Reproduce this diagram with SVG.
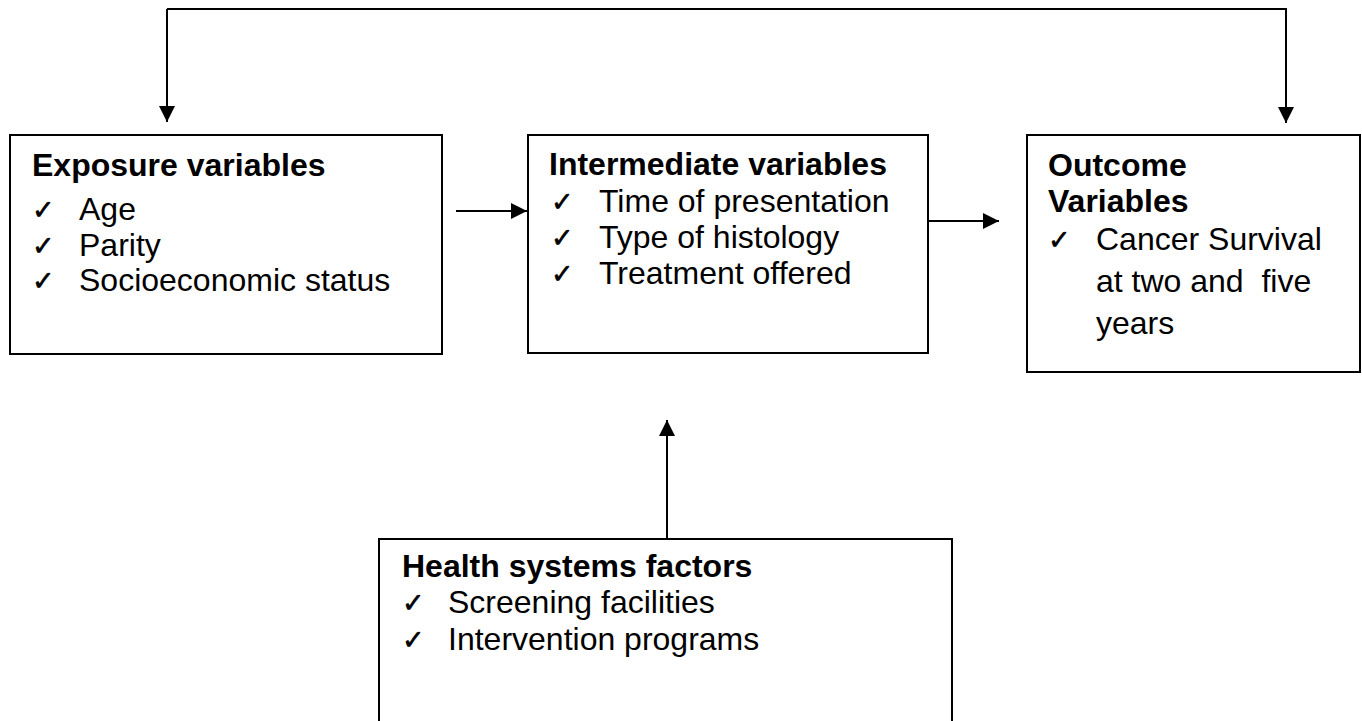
<svg xmlns="http://www.w3.org/2000/svg" width="1362" height="721" viewBox="0 0 1362 721">
  <style>
    .box { fill: #ffffff; stroke: #000000; stroke-width: 2; }
    .title { font-family: "Liberation Sans", Arial, sans-serif; font-size: 32px; font-weight: bold; fill: #000000; }
    .item { font-family: "Liberation Sans", Arial, sans-serif; font-size: 32px; fill: #000000; }
    .chk { font-family: "DejaVu Sans", sans-serif; font-size: 27px; fill: #000000; stroke: #000000; stroke-width: 0.6; }
    .conn { fill: none; stroke: #000000; stroke-width: 2; }
  </style>
  <defs>
    <marker id="arrow" viewBox="0 0 16 16" refX="16" refY="8" markerWidth="16" markerHeight="16" markerUnits="userSpaceOnUse" orient="auto">
      <path d="M0,0 L16,8 L0,16 z" fill="#000000"/>
    </marker>
  </defs>
  <rect width="1362" height="721" fill="#ffffff"/>

  <g id="exposure">
    <rect class="box" x="10" y="135" width="432" height="219"/>
    <text class="title" x="32" y="176">Exposure variables</text>
    <text class="chk" x="32" y="219">✓</text>
    <text class="item" x="79" y="220">Age</text>
    <text class="chk" x="32" y="255">✓</text>
    <text class="item" x="79" y="256">Parity</text>
    <text class="chk" x="32" y="290">✓</text>
    <text class="item" x="79" y="291">Socioeconomic status</text>
  </g>

  <g id="intermediate">
    <rect class="box" x="528" y="135" width="400" height="218"/>
    <text class="title" x="549" y="175">Intermediate variables</text>
    <text class="chk" x="551" y="211">✓</text>
    <text class="item" x="599" y="212">Time of presentation</text>
    <text class="chk" x="551" y="247">✓</text>
    <text class="item" x="599" y="248">Type of histology</text>
    <text class="chk" x="551" y="283">✓</text>
    <text class="item" x="599" y="284">Treatment offered</text>
  </g>

  <g id="outcome">
    <rect class="box" x="1027" y="135" width="333" height="237"/>
    <text class="title" x="1048" y="176">Outcome</text>
    <text class="title" x="1048" y="212">Variables</text>
    <text class="chk" x="1048" y="249">✓</text>
    <text class="item" x="1096" y="250">Cancer Survival</text>
    <text class="item" x="1096" y="292" xml:space="preserve">at two and  five</text>
    <text class="item" x="1096" y="334">years</text>
  </g>

  <g id="health">
    <rect class="box" x="379" y="539" width="573" height="200"/>
    <text class="title" x="402" y="577">Health systems factors</text>
    <text class="chk" x="402" y="612">✓</text>
    <text class="item" x="448" y="613">Screening facilities</text>
    <text class="chk" x="402" y="649">✓</text>
    <text class="item" x="448" y="650">Intervention programs</text>
  </g>

  <g id="connectors">
    <path class="conn" d="M167,9 L167,122" marker-end="url(#arrow)"/>
    <path class="conn" d="M167,9 L1286,9 L1286,123" marker-end="url(#arrow)"/>
    <path class="conn" d="M456,211 L527,211" marker-end="url(#arrow)"/>
    <path class="conn" d="M928,221 L999,221" marker-end="url(#arrow)"/>
    <path class="conn" d="M667,539 L667,420" marker-end="url(#arrow)"/>
  </g>
</svg>
